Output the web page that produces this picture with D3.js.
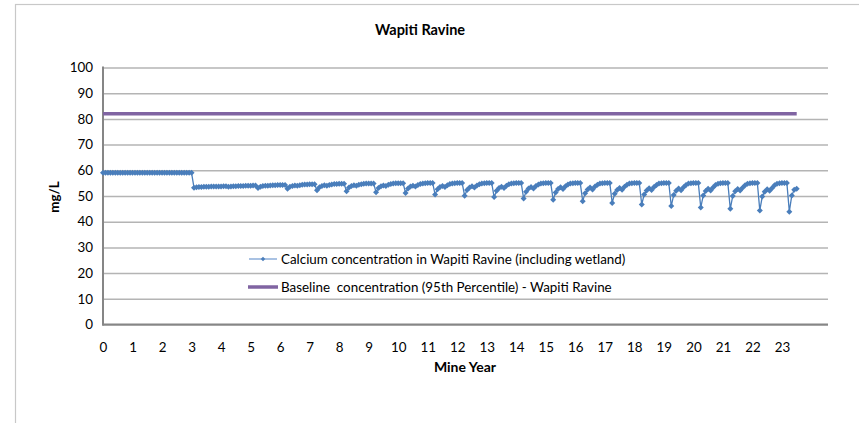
<!DOCTYPE html>
<html>
<head>
<meta charset="utf-8">
<script src="https://cdn.jsdelivr.net/npm/d3@7"></script>
<style>
  html, body { margin: 0; padding: 0; background: #ffffff; }
  svg { display: block; }
  text { font-family: "Lato", "Liberation Sans", sans-serif; fill: #000; }
</style>
</head>
<body>
<svg id="chart" width="859" height="423"></svg>
<script>
// ---- Data ----
const chartTitle = "Wapiti Ravine";
const yAxisTitle = "mg/L";
const xAxisTitle = "Mine Year";
const yearTicks = [0,1,2,3,4,5,6,7,8,9,10,11,12,13,14,15,16,17,18,19,20,21,22,23];
const yTicks = [0,10,20,30,40,50,60,70,80,90,100];
const pointsPerYear = 12; // monthly values

// Calcium concentration in Wapiti Ravine (including wetland), monthly, mg/L
const calcium = [
  59, 59, 59, 59, 59, 59, 59, 59, 59, 59, 59, 59,
  59, 59, 59, 59, 59, 59, 59, 59, 59, 59, 59, 59,
  59, 59, 59, 59, 59, 59, 59, 59, 59, 59, 59, 59,
  59, 53.2, 53.4, 53.5, 53.5, 53.6, 53.6, 53.6, 53.7, 53.7, 53.7, 53.7,
  53.7, 53.8, 53.8, 53.6, 53.7, 53.8, 53.8, 53.9, 53.9, 53.9, 54.0, 54.0,
  54.0, 54.1, 54.1, 53.1, 53.6, 53.9, 54.0, 54.0, 54.1, 54.2, 54.2, 54.3,
  54.3, 54.3, 54.3, 52.8, 53.6, 53.9, 54.1, 54.0, 54.2, 54.4, 54.5, 54.5,
  54.6, 54.6, 54.6, 52.2, 53.4, 53.9, 54.2, 54.0, 54.3, 54.5, 54.7, 54.7,
  54.8, 54.8, 54.8, 51.8, 53.3, 53.9, 54.2, 54.0, 54.4, 54.6, 54.8, 54.9,
  54.9, 54.9, 54.9, 51.5, 53.1, 53.8, 54.1, 53.9, 54.4, 54.7, 54.9, 55.0,
  55.0, 55.0, 55.0, 51.2, 52.9, 53.7, 54.0, 53.7, 54.3, 54.7, 54.9, 55.0,
  55.1, 55.1, 55.1, 50.6, 52.6, 53.5, 53.9, 53.5, 54.2, 54.7, 54.9, 55.0,
  55.1, 55.1, 55.1, 50.1, 52.3, 53.3, 53.8, 53.3, 54.1, 54.6, 54.9, 55.0,
  55.1, 55.1, 55.1, 49.6, 52.0, 53.1, 53.6, 53.1, 54.0, 54.6, 54.9, 55.0,
  55.1, 55.1, 55.1, 49.0, 51.7, 52.9, 53.5, 52.9, 53.9, 54.5, 54.9, 55.0,
  55.1, 55.1, 55.1, 48.5, 51.4, 52.7, 53.4, 52.7, 53.8, 54.5, 54.9, 55.0,
  55.1, 55.1, 55.1, 48.0, 51.1, 52.5, 53.3, 52.5, 53.7, 54.4, 54.9, 55.0,
  55.1, 55.1, 55.1, 47.3, 50.9, 52.3, 53.1, 52.4, 53.6, 54.4, 54.9, 55.0,
  55.1, 55.1, 55.1, 46.7, 50.6, 52.1, 53.0, 52.3, 53.5, 54.3, 54.9, 55.0,
  55.1, 55.1, 55.1, 46.1, 50.4, 52.0, 52.9, 52.2, 53.4, 54.3, 54.9, 55.0,
  55.1, 55.1, 55.1, 45.5, 50.2, 51.9, 52.8, 52.1, 53.3, 54.3, 54.8, 55.0,
  55.1, 55.1, 55.1, 45.0, 50.0, 51.8, 52.7, 52.1, 53.2, 54.2, 54.8, 55.0,
  55.1, 55.1, 55.1, 44.4, 49.8, 51.7, 52.6, 52.0, 53.1, 54.2, 54.8, 55.0,
  55.1, 55.1, 55.1, 43.9, 50.2, 52.4, 52.8
];
// Baseline concentration (95th Percentile) - Wapiti Ravine, mg/L
const baselineValue = 82;

const seriesNames = [
  "Calcium concentration in Wapiti Ravine (including wetland)",
  "Baseline  concentration (95th Percentile) - Wapiti Ravine"
];
const seriesColors = ["#4A7EBB", "#8064A2"];

// ---- Layout ----
const svg = d3.select("#chart");
const plot = { left: 103, right: 828, top: 67.5, bottom: 324.5 };
const xMax = 24.56;
const fontSize = "13.4px";

const x = d3.scaleLinear().domain([0, xMax]).range([plot.left, plot.right]);
const y = d3.scaleLinear().domain([0, 100]).range([plot.bottom, plot.top]);

const calcPts = calcium.map((v, i) => ({ t: i / pointsPerYear, v }));
const baselinePts = [
  { t: 0, v: baselineValue },
  { t: (calcium.length - 1) / pointsPerYear, v: baselineValue }
];

// Outer chart border
svg.append("rect")
  .attr("x", 15.5).attr("y", 4.5)
  .attr("width", 900).attr("height", 600)
  .attr("fill", "none").attr("stroke", "#c8c8c8").attr("stroke-width", 1.2);

// Gridlines + y labels
const yAxis = d3.axisLeft(y).tickValues(yTicks).tickSize(-(plot.right - plot.left)).tickPadding(10).tickFormat(d3.format("d"));
const gy = svg.append("g").attr("transform", `translate(${plot.left},0)`).call(yAxis);
gy.select(".domain").remove();
gy.selectAll(".tick line").attr("stroke", "#b4b4b4").attr("stroke-width", 1.5);
gy.selectAll(".tick text").attr("font-size", fontSize).attr("font-family", "Lato").attr("fill", "#000");

// X axis labels
const xAxis = d3.axisBottom(x).tickValues(yearTicks).tickSize(0).tickPadding(18).tickFormat(d3.format("d"));
const gx = svg.append("g").attr("transform", `translate(0,${plot.bottom})`).call(xAxis);
gx.select(".domain").remove();
gx.selectAll(".tick text").attr("font-size", fontSize).attr("font-family", "Lato").attr("fill", "#000");

// Axis lines
svg.append("line")
  .attr("x1", plot.left).attr("x2", plot.left)
  .attr("y1", y(100) - 1).attr("y2", plot.bottom + 1)
  .attr("stroke", "#868686").attr("stroke-width", 2);
svg.append("line")
  .attr("x1", plot.left - 1).attr("x2", plot.right)
  .attr("y1", plot.bottom).attr("y2", plot.bottom)
  .attr("stroke", "#868686").attr("stroke-width", 2);

// Baseline series
const line = d3.line().x(d => x(d.t)).y(d => y(d.v));
svg.append("path")
  .datum(baselinePts)
  .attr("d", line)
  .attr("fill", "none").attr("stroke", seriesColors[1]).attr("stroke-width", 3.5);

// Calcium series
svg.append("path")
  .datum(calcPts)
  .attr("d", line)
  .attr("fill", "none").attr("stroke", seriesColors[0]).attr("stroke-width", 1.3);

const diamond = d3.symbol().type(d3.symbolSquare).size(18);
svg.append("g").selectAll("path")
  .data(calcPts)
  .join("path")
  .attr("d", diamond)
  .attr("transform", d => `translate(${x(d.t)},${y(d.v)}) rotate(45)`)
  .attr("fill", seriesColors[0]);

// Titles
svg.append("text")
  .attr("x", 420).attr("y", 35)
  .attr("text-anchor", "middle")
  .attr("font-size", "14.5px").attr("font-weight", "bold")
  .text(chartTitle);

svg.append("text")
  .attr("transform", `translate(59,197) rotate(-90)`)
  .attr("text-anchor", "middle")
  .attr("font-size", fontSize).attr("font-weight", "bold")
  .text(yAxisTitle);

svg.append("text")
  .attr("x", 465).attr("y", 371.5)
  .attr("text-anchor", "middle")
  .attr("font-size", "14px").attr("font-weight", "bold")
  .text(xAxisTitle);

// Legend
const legend = svg.append("g");
const legY = [259, 287];
legend.append("line")
  .attr("x1", 249).attr("x2", 277).attr("y1", legY[0]).attr("y2", legY[0])
  .attr("stroke", "#7BA1D4").attr("stroke-width", 1.3);
legend.append("path")
  .attr("d", d3.symbol().type(d3.symbolSquare).size(10)())
  .attr("transform", `translate(263,${legY[0]}) rotate(45)`)
  .attr("fill", seriesColors[0]);
legend.append("line")
  .attr("x1", 248).attr("x2", 278).attr("y1", legY[1]).attr("y2", legY[1])
  .attr("stroke", seriesColors[1]).attr("stroke-width", 3.5);

seriesNames.forEach((name, i) => {
  legend.append("text")
    .attr("x", 281).attr("y", legY[i] + 5)
    .attr("font-size", fontSize)
    .attr("xml:space", "preserve")
    .style("white-space", "pre")
    .text(name);
});
</script>
</body>
</html>
